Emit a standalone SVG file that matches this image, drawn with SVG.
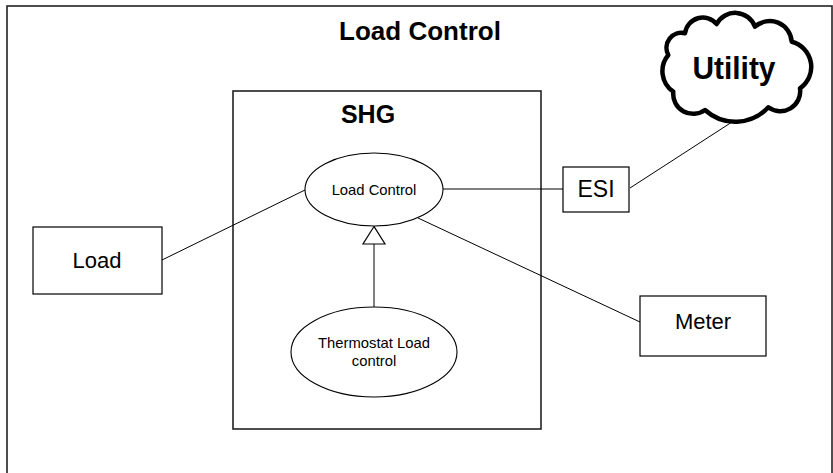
<svg xmlns="http://www.w3.org/2000/svg" width="833" height="473" viewBox="0 0 833 473">
  <style>
    .box { fill: #fff; stroke: #000; stroke-width: 1.2; }
    .frame { fill: none; stroke: #222; stroke-width: 1.6; }
    .uc { fill: #fff; stroke: #000; stroke-width: 1.1; }
    .link { fill: none; stroke: #000; stroke-width: 1; }
    .t { font-family: "Liberation Sans", Arial, sans-serif; fill: #000; text-anchor: middle; }
    .b { font-weight: bold; }
  </style>
  <rect width="833" height="473" fill="#fff"/>

  <!-- system boundary -->
  <g id="frame">
    <rect class="frame" x="7" y="6" width="825" height="480"/>
    <text class="t b" x="420" y="40" font-size="26">Load Control</text>
  </g>

  <!-- SHG subsystem -->
  <g id="shg">
    <rect class="frame" x="233" y="91" width="308" height="338"/>
    <text class="t b" x="368" y="123" font-size="25">SHG</text>
  </g>

  <!-- connectors -->
  <g id="connectors">
    <line class="link" x1="162" y1="260" x2="305" y2="190"/>
    <line class="link" x1="443" y1="189" x2="563" y2="189"/>
    <line class="link" x1="418" y1="218" x2="640" y2="322"/>
    <line class="link" x1="630" y1="188" x2="732" y2="122"/>
    <!-- generalization -->
    <line class="link" x1="374" y1="244" x2="374" y2="307"/>
    <polygon points="374,226.5 363,244 385,244" fill="#fff" stroke="#000" stroke-width="1.2"/>
  </g>

  <g id="load-control">
    <ellipse class="uc" cx="374" cy="189.5" rx="69" ry="36.5"/>
    <text class="t" x="374" y="195" font-size="14.8">Load Control</text>
  </g>

  <g id="thermostat">
    <ellipse class="uc" cx="374" cy="352" rx="83" ry="45"/>
    <text class="t" x="374" y="348" font-size="14.8">Thermostat Load</text>
    <text class="t" x="374" y="366" font-size="14.8">control</text>
  </g>

  <g id="load">
    <rect class="box" x="33" y="227" width="129" height="67"/>
    <text class="t" x="97" y="268" font-size="22">Load</text>
  </g>

  <g id="esi">
    <rect class="box" x="563" y="167" width="66" height="45"/>
    <text class="t" x="596" y="197" font-size="23">ESI</text>
  </g>

  <g id="meter">
    <rect class="box" x="640" y="296" width="126" height="60"/>
    <text class="t" x="703" y="329" font-size="22">Meter</text>
  </g>

  <g id="utility">
    <path d="M685,33.3 A18,18 0 0 1 716.7,24 A21,21 0 0 1 755,26.7 A22,22 0 0 1 791.7,41.7 A26,26 0 0 1 800,88.3 A20,20 0 0 1 768.3,107.3 A45,45 0 0 1 705,110 A20,20 0 0 1 673.3,91.7 A25,25 0 0 1 668.3,55 A15,15 0 0 1 685,33.3 Z" fill="#fff" stroke="#000" stroke-width="4.5" stroke-linejoin="round"/>
    <text class="t b" x="734" y="79" font-size="31" textLength="83" lengthAdjust="spacingAndGlyphs">Utility</text>
  </g>
</svg>
